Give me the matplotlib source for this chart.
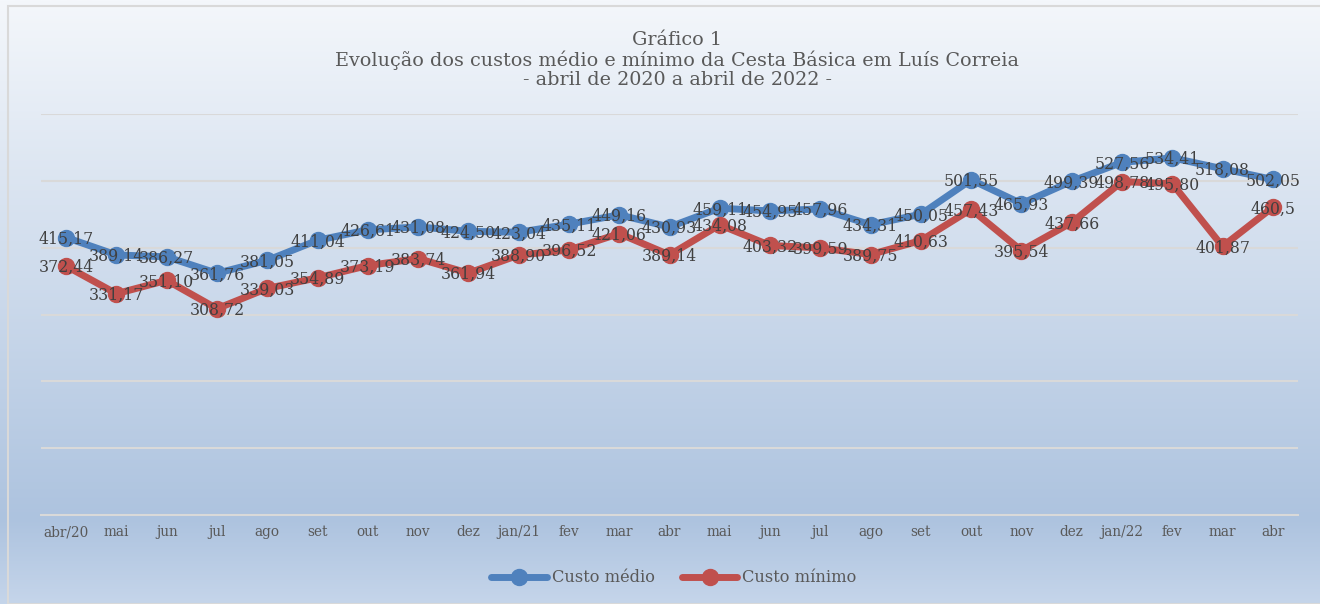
import numpy as np
import matplotlib
matplotlib.use("Agg")
import matplotlib.pyplot as plt
from matplotlib.colors import LinearSegmentedColormap
from matplotlib.patches import Rectangle

# dados do gráfico
meses = ["abr/20", "mai", "jun", "jul", "ago", "set", "out", "nov", "dez",
         "jan/21", "fev", "mar", "abr", "mai", "jun", "jul", "ago", "set",
         "out", "nov", "dez", "jan/22", "fev", "mar", "abr"]
custo_medio = [415.17, 389.14, 386.27, 361.76, 381.05, 411.04, 426.61, 431.08,
               424.50, 423.04, 435.11, 449.16, 430.93, 459.11, 454.95, 457.96,
               434.31, 450.05, 501.55, 465.93, 499.39, 527.56, 534.41, 518.08,
               502.05]
custo_minimo = [372.44, 331.17, 351.10, 308.72, 339.03, 354.89, 373.19, 383.74,
                361.94, 388.90, 396.52, 421.06, 389.14, 434.08, 403.32, 399.59,
                389.75, 410.63, 457.43, 395.54, 437.66, 498.78, 495.80, 401.87,
                460.5]
rotulos_medio = [f"{v:.2f}".replace(".", ",") for v in custo_medio]
rotulos_minimo = [f"{v:.2f}".replace(".", ",") for v in custo_minimo]
rotulos_minimo[-1] = "460,5"
titulo = ["Gráfico 1",
          "Evolução dos custos médio e mínimo da Cesta Básica em Luís Correia",
          "- abril de 2020 a abril de 2022 -"]

SERIF = "DejaVu Serif"
AZUL = "#4f81bd"
VERMELHO = "#c0504d"
TEXTO = "#595959"

fig = plt.figure(figsize=(13.2, 6.04), dpi=100)

# fundo em degradê
bg = fig.add_axes([0, 0, 1, 1], zorder=0)
cmap = LinearSegmentedColormap.from_list(
    "fundo", [(0.0, "#f4f7fb"), (0.86, "#adc3df"), (1.0, "#c5d5ea")])
bg.imshow(np.linspace(0, 1, 256).reshape(-1, 1), aspect="auto", cmap=cmap,
          extent=[0, 1, 0, 1], origin="upper")
bg.add_patch(Rectangle((8 / 1320, 0), 1.2, 1 - 6 / 604, fill=False,
                       edgecolor="#d9d9d9", linewidth=1.5))
bg.set_xlim(0, 1)
bg.set_ylim(0, 1)
bg.axis("off")

ax = fig.add_axes([41 / 1320, 1 - 515 / 604, 1257 / 1320, 401 / 604], zorder=1)
ax.patch.set_alpha(0)
x = np.arange(len(meses))

ax.plot(x, custo_medio, color=AZUL, lw=5, marker="o", ms=11.5,
        label="Custo médio", zorder=3, solid_capstyle="round")
ax.plot(x, custo_minimo, color=VERMELHO, lw=5, marker="o", ms=11.5,
        label="Custo mínimo", zorder=3, solid_capstyle="round")

for serie, rotulos in [(custo_medio, rotulos_medio), (custo_minimo, rotulos_minimo)]:
    for xi, v, t in zip(x, serie, rotulos):
        ax.text(xi, v - 2.5, t, ha="center", va="center", fontsize=11.3,
                family=SERIF, color="#404040", zorder=4)

ax.set_xlim(-0.5, len(meses) - 0.5)
ax.set_ylim(0, 600)
ax.set_yticks(range(0, 601, 100))
ax.set_yticklabels([])
ax.grid(axis="y", color="#d9d9d9", lw=1.5)
ax.set_axisbelow(True)
ax.tick_params(axis="y", length=0)
ax.tick_params(axis="x", length=0, pad=7.5, colors=TEXTO, labelsize=9.8)
ax.set_xticks(x)
ax.set_xticklabels(meses, family=SERIF)
for s in ["top", "right", "left"]:
    ax.spines[s].set_visible(False)
ax.spines["bottom"].set_color("#d9d9d9")
ax.spines["bottom"].set_linewidth(1.5)

for i, linha in enumerate(titulo):
    fig.text(0.513, 1 - (40 + 20 * i) / 604, linha, ha="center", va="center",
             fontsize=13.8, family=SERIF, color=TEXTO)

leg = ax.legend(loc="center", bbox_to_anchor=(0.5036, (515 - 578) / 401),
                ncol=2, frameon=False, handlelength=3.4, columnspacing=1.7,
                handletextpad=0.3, prop={"family": SERIF, "size": 11.7})
for t in leg.get_texts():
    t.set_color(TEXTO)

fig.savefig("out.png", dpi=100)
